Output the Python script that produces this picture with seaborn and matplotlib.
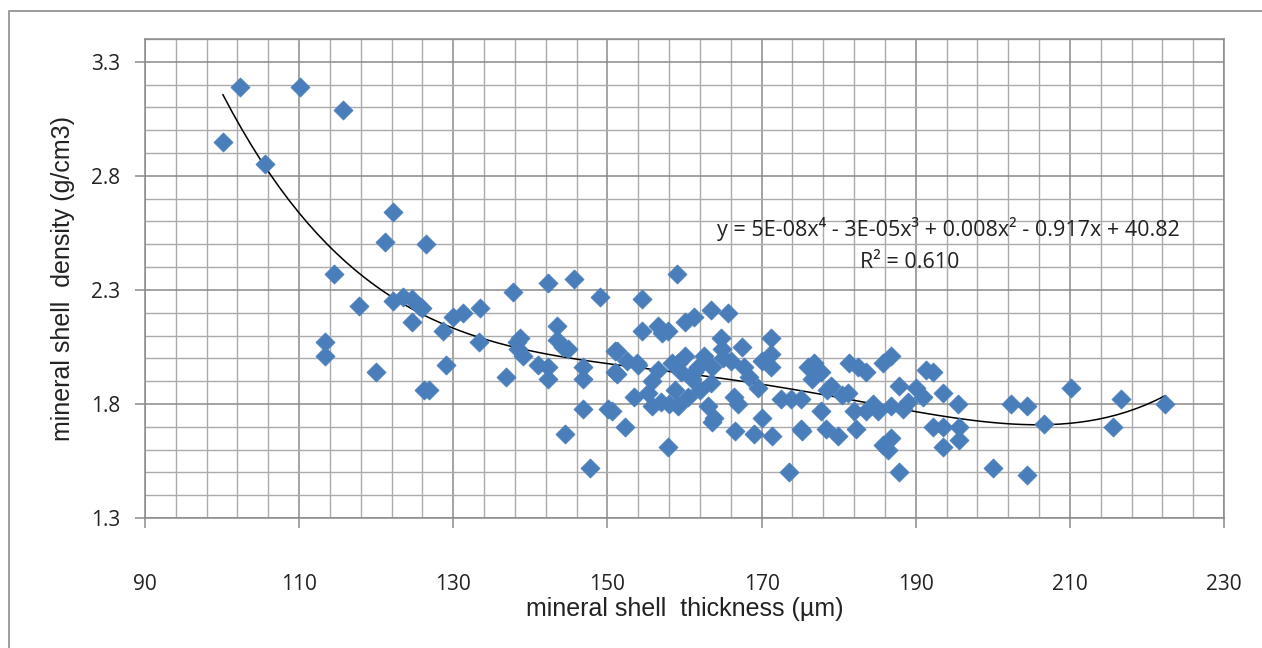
import numpy as np
import pandas as pd
import seaborn as sns
import matplotlib.pyplot as plt
from matplotlib.ticker import MultipleLocator
from matplotlib.patches import Rectangle

# values
thickness = [
    100.1, 102.3, 105.6, 110.1, 115.7, 122.2, 121.2, 126.5, 114.5, 117.8,
    122.2, 123.5, 124.7, 125.5, 124.7, 113.4, 113.4, 120.0, 126.2,
    126.0, 129.9, 131.2, 128.7, 133.5, 133.4, 129.0, 126.9, 137.8, 142.3,
    145.7, 149.0, 138.7, 138.3, 139.1, 136.9, 141.0, 142.3, 142.3, 143.4,
    143.5, 144.3, 144.9, 146.8, 146.8, 146.8, 150.1, 144.5, 147.8, 151.0,
    151.0, 138.4,
    159.0, 154.5, 154.5, 156.5, 157.1, 157.9, 160.1, 161.2, 163.5, 165.7,
    151.3, 152.6, 153.9, 151.3, 156.6, 159.1, 160.1, 161.2, 162.5, 164.7,
    164.9, 166.0, 163.6, 167.7, 170.1, 171.2, 171.2, 171.2, 153.4, 155.3,
    155.8, 156.9, 158.8, 159.2, 160.4, 161.0, 163.0, 163.4, 163.8, 163.6,
    166.4, 166.9, 152.3, 157.8, 150.6, 166.6, 169.0, 170.1, 171.4, 172.5,
    173.8, 175.3, 173.5, 176.0, 154.0, 155.8, 158.0, 159.5, 161.8, 165.0,
    168.4, 169.6, 167.5, 162.0, 158.4,
    176.8, 176.6, 177.7, 181.3, 182.5, 183.5, 185.8, 186.8, 181.2, 187.8,
    190.0, 191.3, 192.3, 191.0, 193.5, 195.5, 175.1, 177.7, 182.0, 183.5,
    185.1, 186.8, 189.0, 175.1, 178.3, 179.9, 182.2, 185.7, 186.8, 186.4,
    187.8, 192.3, 193.6, 193.6, 195.6, 195.6, 200.0, 178.5, 180.5, 184.4,
    188.3, 179.0,
    202.3, 204.5, 206.6, 210.1, 216.6, 215.6, 222.3, 204.4,
]
density = [
    2.95, 3.19, 2.85, 3.19, 3.09, 2.64, 2.51, 2.50, 2.37, 2.23,
    2.25, 2.27, 2.26, 2.23, 2.16, 2.07, 2.01, 1.94, 1.86,
    2.22, 2.18, 2.20, 2.12, 2.22, 2.07, 1.97, 1.86, 2.29, 2.33,
    2.35, 2.27, 2.09, 2.07, 2.01, 1.92, 1.97, 1.96, 1.91, 2.14,
    2.08, 2.05, 2.04, 1.96, 1.91, 1.78, 1.78, 1.67, 1.52, 2.03,
    1.94, 2.04,
    2.37, 2.26, 2.12, 2.14, 2.11, 2.12, 2.16, 2.18, 2.21, 2.20,
    2.03, 1.99, 1.98, 1.93, 1.95, 1.98, 2.01, 1.94, 2.01, 2.09,
    2.04, 1.99, 1.96, 1.96, 1.99, 2.09, 2.02, 1.96, 1.83, 1.85,
    1.79, 1.81, 1.86, 1.79, 1.83, 1.91, 1.79, 1.89, 1.74, 1.72,
    1.83, 1.80, 1.70, 1.61, 1.77, 1.68, 1.67, 1.74, 1.66, 1.82,
    1.82, 1.68, 1.50, 1.96, 1.97, 1.90, 1.80, 1.94, 1.96, 2.00,
    1.92, 1.87, 2.05, 1.86, 1.98,
    1.98, 1.91, 1.94, 1.98, 1.96, 1.94, 1.98, 2.01, 1.85, 1.88,
    1.87, 1.95, 1.94, 1.83, 1.85, 1.80, 1.82, 1.77, 1.77, 1.77,
    1.77, 1.79, 1.81, 1.69, 1.69, 1.66, 1.69, 1.62, 1.65, 1.60,
    1.50, 1.70, 1.70, 1.61, 1.70, 1.64, 1.52, 1.86, 1.84, 1.80,
    1.78, 1.88,
    1.80, 1.79, 1.71, 1.87, 1.82, 1.70, 1.80, 1.49,
]

x_ticks = [90, 110, 130, 150, 170, 190, 210, 230]
y_ticks = [1.3, 1.8, 2.3, 2.8, 3.3]
equation = "y = 5E-08x\u2074 - 3E-05x\u00b3 + 0.008x\u00b2 - 0.917x + 40.82"
r2_text = "R\u00b2 = 0.610"

df = pd.DataFrame({"thickness": thickness, "density": density})

sns.set_style("white")
plt.rcParams["font.family"] = ["Liberation Sans", "DejaVu Sans"]

fig = plt.figure(figsize=(12.62, 6.48), dpi=100)
ax = fig.add_axes([145 / 1262, 1 - 518 / 648, 1079 / 1262, 479 / 648])

# grey chart frame (cropped on the right and bottom in the reference)
fig.patches.append(Rectangle((9 / 1262, -0.05), 1.2, 1 - 11 / 648 + 0.05,
                             transform=fig.transFigure, fill=False,
                             edgecolor="#8c8c8c", lw=1.2))

sns.scatterplot(data=df, x="thickness", y="density", marker="D", s=95,
                color="#4a7ebb", edgecolor="#4a7ebb", linewidth=0.5, ax=ax, zorder=3)
sns.regplot(data=df, x="thickness", y="density", order=4, ci=None, scatter=False,
            line_kws=dict(color="black", lw=1.1), ax=ax)

ax.set_xlim(90, 230)
ax.set_ylim(1.3, 3.4)
ax.set_xticks(x_ticks)
ax.set_xticklabels([str(t) for t in x_ticks])
ax.xaxis.set_minor_locator(MultipleLocator(4, offset=2))
ax.set_yticks(y_ticks)
ax.set_yticklabels([f"{t:.1f}" for t in y_ticks])
ax.yaxis.set_minor_locator(MultipleLocator(0.1))
ax.grid(which="major", color="#8a8a8a", lw=1.1)
ax.grid(which="minor", color="#ababab", lw=1.0)
ax.set_axisbelow(True)
for sp in ax.spines.values():
    sp.set_color("#8a8a8a")
    sp.set_linewidth(1.1)
ax.tick_params(which="major", direction="out", length=7, width=1.1, color="#8a8a8a",
               labelsize=15, labelcolor="#222222", bottom=True, left=True)
ax.tick_params(axis="x", pad=33)
ax.tick_params(axis="y", pad=11)
ax.tick_params(which="minor", length=0)
for lab in ax.get_xticklabels() + ax.get_yticklabels():
    lab.set_family(["Open Sans", "DejaVu Sans"])

ax.set_xlabel("mineral shell  thickness (\u00b5m)", fontsize=18, color="#222222", labelpad=2)
ax.set_ylabel("mineral shell  density (g/cm3)", fontsize=18, color="#222222", labelpad=11)

ax.text(0.530, 0.603, equation, transform=ax.transAxes, fontsize=15.5,
        family=["Open Sans", "DejaVu Sans"], color="#222222", va="center", ha="left")
ax.text(0.709, 0.534, r2_text, transform=ax.transAxes, fontsize=15.5,
        family=["Open Sans", "DejaVu Sans"], color="#222222", va="center", ha="center")

fig.savefig("out.png", dpi=100)
